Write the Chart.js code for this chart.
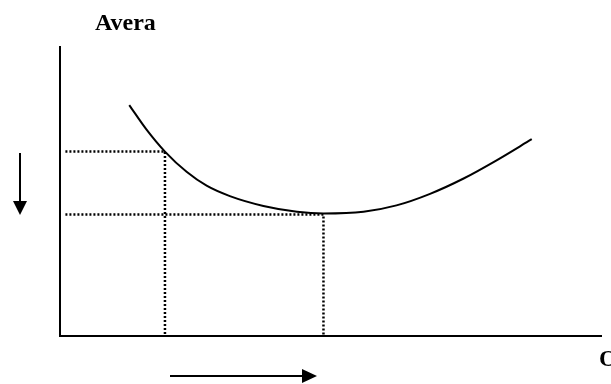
<!DOCTYPE html>
<html>
<head>
<meta charset="utf-8">
<script src="https://cdn.jsdelivr.net/npm/chart.js@4/dist/chart.umd.min.js"></script>
<style>
  html, body { margin: 0; padding: 0; background: #fff; }
  .graph-container { width: 611px; height: 384px; position: relative; }
</style>
</head>
<body>
<div class="graph-container"><canvas id="chart"></canvas></div>
<script>
// Average cost curve (quantity on x, average cost on y)
const quantity = [1.28, 1.6, 1.94, 2.34, 2.71, 3.14, 3.76, 4.38, 4.87, 5.61, 6.22, 6.84, 7.46, 8.07, 8.72];
const avgCost = [7.99, 7.14, 6.38, 5.68, 5.2, 4.84, 4.5, 4.3, 4.24, 4.3, 4.52, 4.92, 5.45, 6.08, 6.81];

// dotted guide lines: small output level and minimum-cost output level
const guideStart = 0.1;
const lowOutput = 1.94;
const lowOutputCost = 6.38;
const minOutput = 4.87;
const minCost = 4.2;

const yTitle = 'Avera';
const xTitle = 'O';

const curve = quantity.map((q, i) => ({ x: q, y: avgCost[i] }));
const guide1 = [
  { x: guideStart, y: lowOutputCost },
  { x: lowOutput, y: lowOutputCost },
  { x: lowOutput, y: 0 },
];
const guide2 = [
  { x: guideStart, y: minCost },
  { x: minOutput, y: minCost },
  { x: minOutput, y: 0 },
];

// labels and direction arrows around the axes
const annotations = {
  id: 'annotations',
  afterDraw(chart) {
    const ctx = chart.ctx;
    ctx.save();
    ctx.fillStyle = '#000';
    ctx.strokeStyle = '#000';
    ctx.font = 'bold 24px "Liberation Serif"';
    ctx.textBaseline = 'alphabetic';
    ctx.fillText(yTitle, 95, 30);
    ctx.fillText(xTitle, 599, 366);

    ctx.lineWidth = 2;
    // down arrow
    ctx.beginPath();
    ctx.moveTo(20, 153);
    ctx.lineTo(20, 203);
    ctx.stroke();
    ctx.beginPath();
    ctx.moveTo(13, 201);
    ctx.lineTo(27, 201);
    ctx.lineTo(20, 215);
    ctx.closePath();
    ctx.fill();
    // right arrow
    ctx.beginPath();
    ctx.moveTo(170, 376);
    ctx.lineTo(304, 376);
    ctx.stroke();
    ctx.beginPath();
    ctx.moveTo(302, 369);
    ctx.lineTo(302, 383);
    ctx.lineTo(317, 376);
    ctx.closePath();
    ctx.fill();
    ctx.restore();
  }
};

const guideStyle = {
  borderColor: '#000',
  borderWidth: 2.5,
  borderDash: [2, 2],
  borderCapStyle: 'butt',
  pointRadius: 0,
  tension: 0,
  fill: false,
};

const ctx = document.getElementById('chart').getContext('2d');
new Chart(ctx, {
  type: 'line',
  data: {
    datasets: [
      {
        data: curve,
        borderColor: '#000',
        borderWidth: 2,
        pointRadius: 0,
        cubicInterpolationMode: 'monotone',
        fill: false,
      },
      { data: guide1, ...guideStyle },
      { data: guide2, ...guideStyle },
    ],
  },
  options: {
    responsive: true,
    maintainAspectRatio: false,
    animation: false,
    layout: { padding: { left: 60, right: 10, top: 47, bottom: 48 } },
    plugins: {
      legend: { display: false },
      tooltip: { enabled: false },
    },
    scales: {
      x: {
        type: 'linear',
        min: 0,
        max: 10,
        ticks: { display: false },
        grid: { display: false, drawTicks: false },
        border: { display: true, color: '#000', width: 2 },
      },
      y: {
        type: 'linear',
        min: 0,
        max: 10,
        ticks: { display: false },
        grid: { display: false, drawTicks: false },
        border: { display: true, color: '#000', width: 2 },
      },
    },
  },
  plugins: [annotations],
});
</script>
</body>
</html>
